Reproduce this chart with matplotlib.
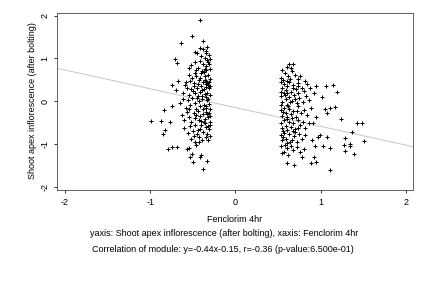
import numpy as np
import matplotlib
matplotlib.use("Agg")
import matplotlib.pyplot as plt

plt.rcParams['font.family'] = ['Liberation Sans', 'DejaVu Sans']

# ---- data (x: Fenclorim 4hr, y: Shoot apex inflorescence) ----
group_a_core = [
    (-0.42,1.25),(-0.38,1.22),(-0.35,1.18),(-0.33,1.27),(-0.45,1.12),(-0.40,1.05),(-0.36,1.00),(-0.31,1.08),(-0.47,1.15),(-0.34,1.12),
    (-0.52,0.85),(-0.48,0.92),(-0.44,0.78),(-0.41,0.95),(-0.38,0.88),(-0.35,0.82),(-0.32,0.92),(-0.30,0.75),(-0.46,0.72),(-0.39,0.70),(-0.33,0.97),(-0.55,0.78),(-0.36,0.76),(-0.31,0.86),
    (-0.58,0.45),(-0.55,0.62),(-0.51,0.55),(-0.49,0.42),(-0.46,0.60),(-0.43,0.50),(-0.40,0.65),(-0.38,0.45),(-0.36,0.58),(-0.34,0.48),(-0.32,0.62),(-0.30,0.52),(-0.44,0.41),(-0.41,0.55),(-0.37,0.68),(-0.33,0.42),(-0.31,0.45),(-0.48,0.66),(-0.53,0.48),(-0.35,0.40),
    (-0.62,0.20),(-0.57,0.32),(-0.54,0.15),(-0.52,0.28),(-0.49,0.35),(-0.47,0.18),(-0.45,0.30),(-0.42,0.22),(-0.40,0.36),(-0.39,0.12),(-0.37,0.28),(-0.35,0.33),(-0.33,0.20),(-0.31,0.30),(-0.30,0.14),(-0.44,0.11),(-0.36,0.16),(-0.59,0.38),(-0.50,0.24),(-0.32,0.37),
    (-0.65,-0.05),(-0.61,0.05),(-0.58,-0.15),(-0.56,0.02),(-0.53,-0.10),(-0.51,0.08),(-0.48,-0.05),(-0.46,-0.18),(-0.43,0.00),(-0.41,-0.12),(-0.39,0.06),(-0.37,-0.08),(-0.35,-0.15),(-0.33,0.02),(-0.31,-0.06),(-0.30,-0.18),(-0.45,0.07),(-0.38,-0.19),(-0.34,0.09),(-0.55,-0.19),
    (-0.63,-0.32),(-0.60,-0.45),(-0.57,-0.25),(-0.54,-0.38),(-0.52,-0.48),(-0.49,-0.28),(-0.47,-0.40),(-0.44,-0.22),(-0.42,-0.35),(-0.40,-0.46),(-0.38,-0.30),(-0.36,-0.42),(-0.34,-0.25),(-0.32,-0.38),(-0.30,-0.48),(-0.33,-0.31),(-0.37,-0.49),(-0.46,-0.33),(-0.31,-0.27),(-0.43,-0.44),
    (-0.60,-0.62),(-0.56,-0.75),(-0.53,-0.58),(-0.50,-0.70),(-0.47,-0.55),(-0.45,-0.78),(-0.42,-0.65),(-0.40,-0.55),(-0.38,-0.72),(-0.35,-0.60),(-0.33,-0.78),(-0.31,-0.66),(-0.30,-0.56),(-0.36,-0.52),(-0.44,-0.68),
    (-0.52,-0.88),(-0.47,-0.95),(-0.43,-0.85),(-0.39,-0.92),(-0.35,-0.83),(-0.32,-0.90),(-0.49,-0.82),
    (-0.30,0.98),(-0.34,0.72),(-0.30,0.35),(-0.32,0.05),(-0.30,-0.35),(-0.32,-0.58),(-0.30,-0.82),(-0.34,-0.12),(-0.36,0.50),(-0.39,0.25),
]
group_a_outer = [
    (-0.415,1.90),(-0.505,1.52),(-0.64,1.37),(-0.38,1.40),(-0.71,0.98),(-0.68,0.90),(-0.75,0.37),(-0.70,0.27),(-0.67,0.47),
    (-0.835,-0.21),(-0.75,-0.12),(-0.995,-0.46),(-0.875,-0.46),(-0.77,-0.48),(-0.846,-0.76),(-0.83,-0.68),
    (-0.79,-1.11),(-0.75,-1.07),(-0.68,-1.07),(-0.57,-1.12),(-0.55,-1.09),(-0.51,-1.24),(-0.50,-1.42),(-0.53,-1.30),
    (-0.415,-1.30),(-0.40,-1.26),(-0.33,-1.40),(-0.38,-1.58),(-0.46,-1.03),(-0.43,-0.95),
]
group_b_core = [
    (0.55,0.72),(0.58,0.65),(0.60,0.80),(0.54,0.55),(0.62,0.60),(0.66,0.70),(0.70,0.62),(0.76,0.58),(0.56,0.50),(0.64,0.53),
    (0.53,0.45),(0.55,0.30),(0.57,0.40),(0.59,0.25),(0.61,0.35),(0.63,0.45),(0.65,0.22),(0.68,0.38),(0.71,0.28),(0.74,0.42),(0.78,0.32),(0.81,0.24),(0.84,0.40),(0.54,0.22),(0.60,0.48),(0.67,0.30),(0.73,0.20),(0.88,0.30),
    (0.53,0.12),(0.55,-0.02),(0.57,0.18),(0.59,0.05),(0.61,-0.08),(0.63,0.10),(0.66,0.00),(0.69,0.15),(0.72,-0.05),(0.75,0.08),(0.79,-0.02),(0.83,0.12),(0.54,-0.09),(0.58,0.14),(0.64,-0.03),(0.70,0.04),(0.86,0.02),(0.60,0.19),
    (0.53,-0.20),(0.55,-0.35),(0.57,-0.15),(0.59,-0.28),(0.61,-0.38),(0.63,-0.18),(0.65,-0.30),(0.68,-0.22),(0.71,-0.36),(0.74,-0.12),(0.77,-0.28),(0.80,-0.20),(0.84,-0.33),(0.56,-0.26),(0.62,-0.12),(0.66,-0.40),(0.72,-0.24),(0.89,-0.15),
    (0.53,-0.50),(0.55,-0.62),(0.57,-0.45),(0.59,-0.58),(0.61,-0.68),(0.63,-0.48),(0.65,-0.60),(0.68,-0.52),(0.70,-0.66),(0.73,-0.44),(0.76,-0.57),(0.79,-0.48),(0.82,-0.62),(0.56,-0.69),(0.60,-0.42),(0.67,-0.70),(0.74,-0.64),(0.86,-0.52),
    (0.53,-0.80),(0.55,-0.92),(0.57,-0.75),(0.59,-0.88),(0.61,-0.98),(0.63,-0.78),(0.66,-0.90),(0.69,-0.82),(0.72,-0.95),(0.75,-0.76),(0.78,-0.88),(0.82,-0.80),(0.56,-0.85),(0.64,-0.95),(0.70,-0.73),
    (0.54,-1.05),(0.57,-1.18),(0.60,-1.10),(0.62,-1.25),(0.65,-1.05),(0.68,-1.15),(0.72,-1.08),(0.76,-1.20),(0.80,-1.12),(0.55,-1.22),(0.58,-1.02),
]
group_b_outer = [
    (0.63,0.88),(0.68,0.88),(0.655,0.77),(0.73,0.52),(0.82,0.47),(0.74,0.35),(0.95,0.35),(1.06,0.35),(1.15,0.375),(1.19,0.22),
    (0.92,0.19),(1.02,0.09),(1.11,-0.15),(1.165,-0.13),(1.05,-0.19),(1.07,-0.27),(1.24,-0.41),(1.43,-0.50),(1.48,-0.50),
    (1.37,-0.72),(1.51,-0.94),(1.29,-0.86),(1.27,-1.03),(1.35,-1.01),(1.35,-1.06),(1.28,-1.16),(1.39,-1.23),(1.11,-1.09),
    (1.03,-1.06),(0.92,-1.32),(0.89,-1.46),(0.94,-1.43),(1.11,-1.62),(0.60,-1.46),(0.69,-1.49),(0.785,-1.30),(1.075,-0.85),
    (0.99,-0.80),(0.97,-0.84),(0.90,-0.92),(0.93,-1.06),(0.91,-0.52),(0.95,-0.37),
]
slope, intercept = -0.44, -0.15
x_ticks = [-2, -1, 0, 1, 2]
y_ticks = [-2, -1, 0, 1, 2]

pts = np.array(group_a_core + group_a_outer + group_b_core + group_b_outer)
xs, ys = pts[:, 0], pts[:, 1]

FS = 9
fig = plt.figure(figsize=(6, 4), dpi=72)
ax = fig.add_axes([0.1327, 0.342, 0.8226, 0.612])
ax.set_xlim(-2.09, 2.08)
ax.set_ylim(-2.07, 2.06)

lx = np.array(ax.get_xlim())
ax.plot(lx, slope * lx + intercept, color='#c8c8c8', lw=1.0, zorder=1)
ax.plot(xs, ys, '+', color='black', markersize=4.5, markeredgewidth=1.0, zorder=2)

ax.set_xticks(x_ticks)
ax.set_yticks(y_ticks)
ax.set_xticklabels([str(t) for t in x_ticks], fontsize=FS)
ax.set_yticklabels([str(t) for t in y_ticks], fontsize=FS, rotation=90, va='center')
ax.tick_params(direction='out', length=3, width=0.8, pad=5, colors='black')
for s in ax.spines.values():
    s.set_linewidth(0.9)
    s.set_color('#555555')

fig.text(33 / 432, 1 - 101 / 288, 'Shoot apex inflorescence (after bolting)',
         rotation=90, ha='center', va='center', fontsize=FS)
fig.text(235 / 432, 1 - 219 / 288, 'Fenclorim 4hr', ha='center', va='center', fontsize=FS)
fig.text(224 / 432, 1 - 233 / 288,
         'yaxis: Shoot apex inflorescence (after bolting), xaxis: Fenclorim 4hr',
         ha='center', va='center', fontsize=FS)
fig.text(223 / 432, 1 - 250 / 288,
         'Correlation of module: y=-0.44x-0.15, r=-0.36 (p-value:6.500e-01)',
         ha='center', va='center', fontsize=FS)

fig.savefig('out.png', dpi=72)
